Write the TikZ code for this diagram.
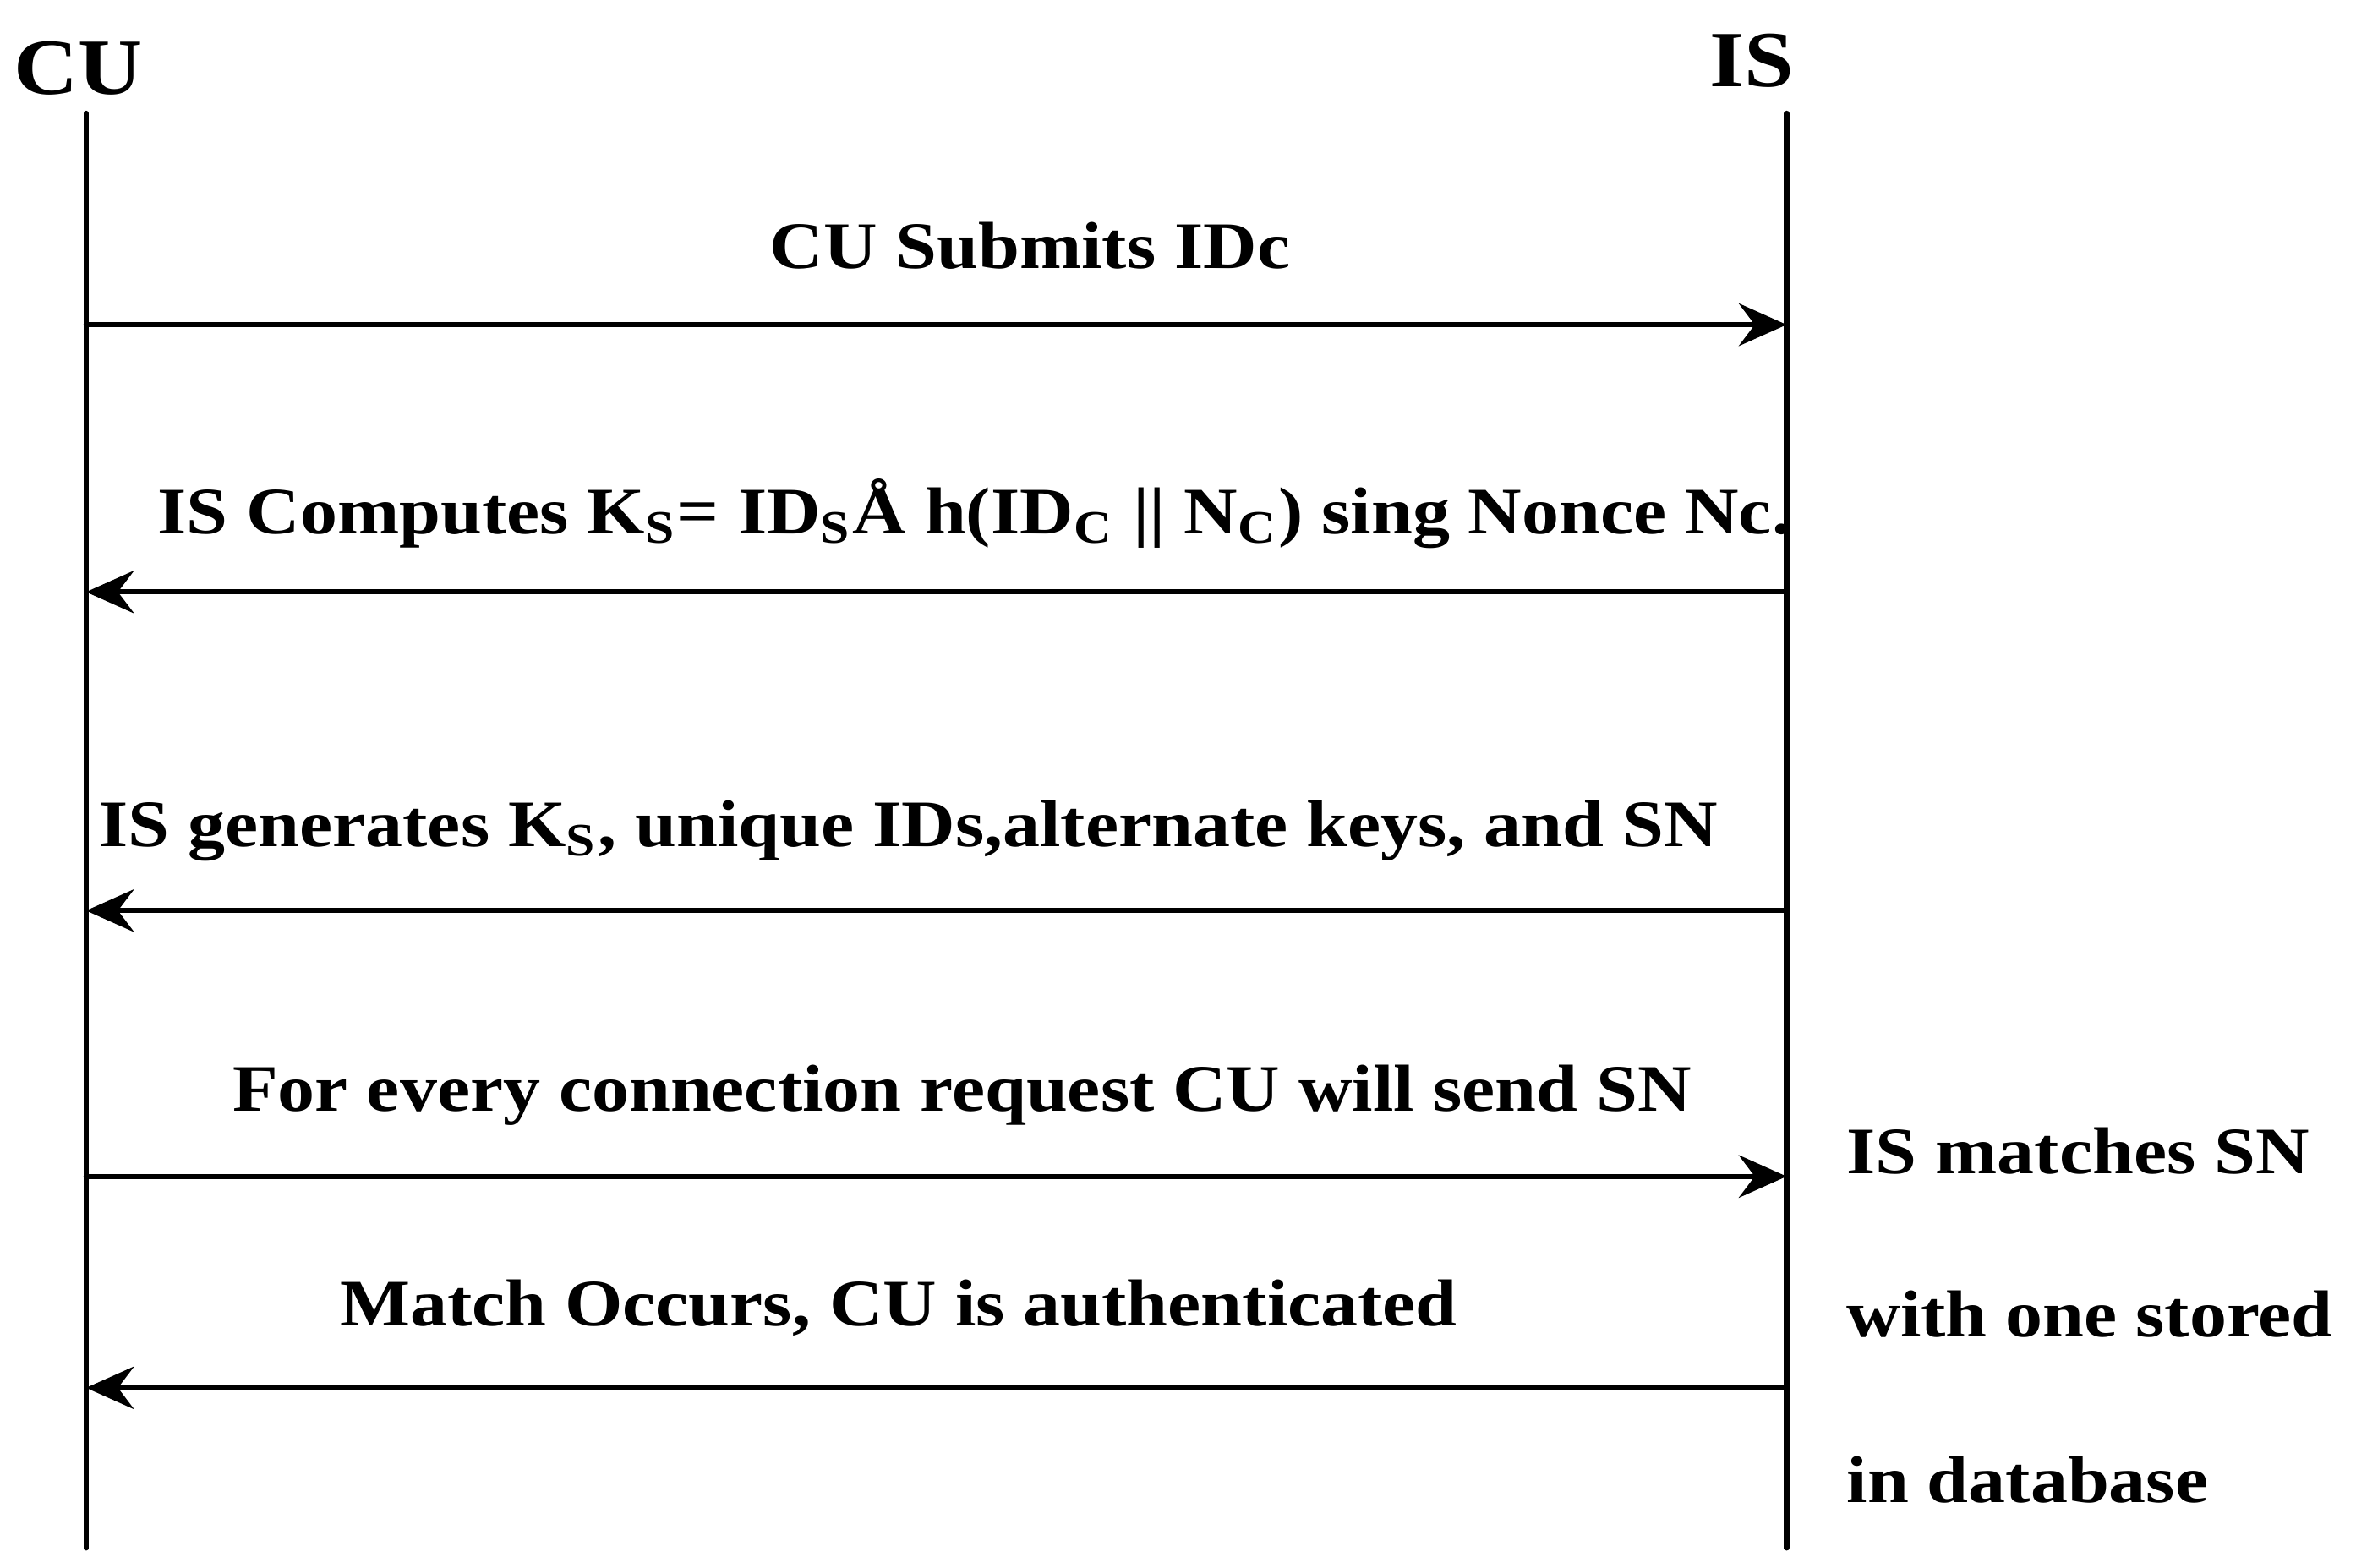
\documentclass[tikz,border=0pt]{standalone}
\usepackage{fontspec}
\setmainfont{Liberation Serif}
\usepackage{tikz}
\usetikzlibrary{arrows.meta}

\begin{document}
\begin{tikzpicture}[line cap=round,line join=round,x=0.01cm,y=-0.01cm,
  msg/.style={line width=1pt,-{Stealth[length=9pt,width=8pt,inset=3pt]}},
  lbl/.style={font=\fontsize{12.5}{14}\selectfont\bfseries,inner sep=0pt,xscale=1.12}]
\useasboundingbox (0,0) rectangle (1560,1038);
% life lines
\coordinate (cutop) at (57,75);
\coordinate (cubot) at (57,1025);
\coordinate (istop) at (1183,75);
\coordinate (isbot) at (1183,1025);
\draw[line width=1pt] (cutop) -- (cubot);
\draw[line width=1pt] (istop) -- (isbot);
\node[lbl,font=\fontsize{15}{17}\selectfont\bfseries] (cu) at (52,45) {CU};
\node[lbl,font=\fontsize{15}{17}\selectfont\bfseries] (is) at (1160,40) {IS};
% messages
\foreach \name/\y in {a/215,b/392,c/603,d/779,e/919}{
  \coordinate (cu\name) at (57,\y);
  \coordinate (is\name) at (1183,\y);
}
\draw[msg] (cua) -- (isa);
\draw[msg] (isb) -- (cub);
\draw[msg] (isc) -- (cuc);
\draw[msg] (cud) -- (isd);
\draw[msg] (ise) -- (cue);
\node[lbl] (la) at (682,163) {CU Submits IDc};
\node[lbl] (lb) at (645,340) {IS Computes K\textsubscript{S}= ID\textsubscript{S}Å h(ID\textsubscript{C} || N\textsubscript{C}) sing Nonce Nc.};
\node[lbl,anchor=west] (lc) at (65,550) {IS generates K\textsubscript{S}, unique IDs,alternate keys, and SN};
\node[lbl] (ld) at (637,725) {For every connection request CU will send SN};
\node[lbl] (le) at (595,866) {Match Occurs, CU is authenticated};
% note
\node[lbl,anchor=west] (n1) at (1222,762) {IS matches SN};
\node[lbl,anchor=west] (n2) at (1222,870) {with one stored};
\node[lbl,anchor=west] (n3) at (1222,980) {in database};
\end{tikzpicture}
\end{document}
